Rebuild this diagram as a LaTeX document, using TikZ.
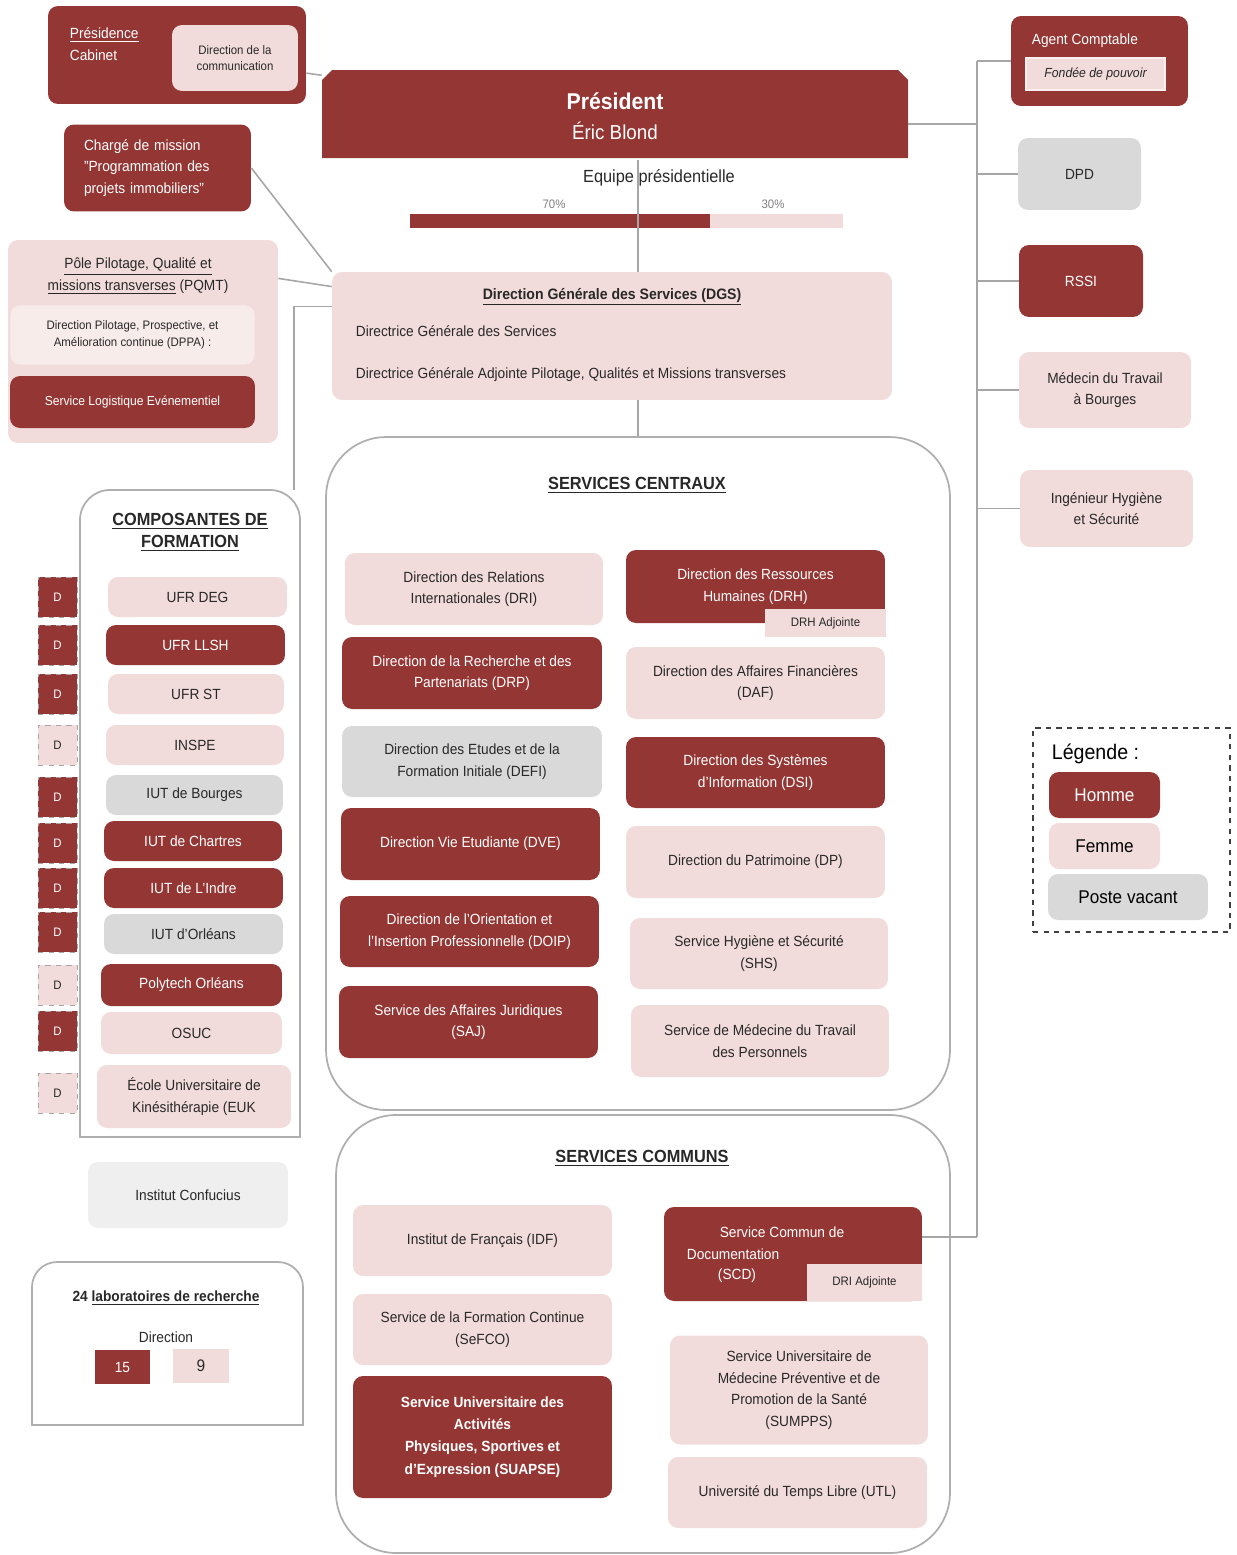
\documentclass[tikz,border=0pt]{standalone}
\usepackage{fontspec}
\setmainfont[FakeStretch=0.93]{Liberation Sans}
\definecolor{homme}{RGB}{148,54,52}
\definecolor{femme}{RGB}{242,220,219}
\definecolor{vacant}{RGB}{217,217,217}
\definecolor{confu}{RGB}{239,239,239}
\definecolor{dppa}{RGB}{248,236,235}
\definecolor{trait}{RGB}{166,166,166}
\definecolor{cadre}{RGB}{175,175,175}
\definecolor{texte}{RGB}{40,40,40}
\begin{document}
\begin{tikzpicture}[x=0.02cm, y=-0.02cm,
    every node/.style={font=\fontsize{8.4}{12.3}\selectfont, text=texte, inner sep=2pt},
    taille/.style 2 args={minimum width=#1cm, minimum height=#2cm},
    boite/.style={rounded corners=0.2cm, align=center},
    hom/.style={boite, fill=homme, text=white},
    fem/.style={boite, fill=femme},
    vac/.style={boite, fill=vacant},
    petit/.style={font=\fontsize{7}{9.5}\selectfont},
    titre/.style={font=\bfseries\fontsize{10}{12.5}\selectfont, align=center},
    dbox/.style={draw=trait, dashed, taille={0.78}{0.8}, petit},
    lien/.style={draw=trait, line width=0.9pt},
    cadre/.style={draw=cadre, line width=1pt}]
      \useasboundingbox (0,0) rectangle (1237,1555);

      \node[hom, taille={5.16}{1.96}] (pres) at (177,55) {};
      \node[fem, taille={2.52}{1.32}, petit] (comm) at (235,58) {Direction de la\\communication};
      \node[anchor=west, text=white, align=left] (cab) at (66,44) {\underline{Présidence}\\Cabinet};

      \node[hom, taille={3.74}{1.74}, text width=2.94cm, align=left] (charge) at (157.5,168) {Chargé de mission\\"Programmation des\\projets immobiliers"};

      \node[fem, taille={5.4}{4.06}] (pole) at (143,341.5) {};
      \node[align=center] (poleT) at (138,276) {\underline{Pôle Pilotage, Qualité et}\\\underline{missions transverses} (PQMT)};
      \node[boite, fill=dppa, draw=femme, taille={4.9}{1.2}, petit] (dppaB) at (132.5,335) {Direction Pilotage, Prospective, et\\Amélioration continue (DPPA) :};
      \node[hom, taille={4.9}{1.04}, font=\fontsize{7.4}{9}\selectfont] (sle) at (132.5,402) {Service Logistique Evénementiel};

      \fill[homme] (322,158) -- (322,80) -- (332,70) -- (898,70) -- (908,80) -- (908,158) -- cycle;
      \node[taille={11.72}{1.76}, text=white, align=center] (presid) at (615,116) {{\bfseries\fontsize{13}{16}\selectfont Président}\\[5pt]{\fontsize{11.5}{16}\selectfont Éric Blond}};

      \node[font=\fontsize{10}{12}\selectfont] (equipe) at (659,178) {Equipe présidentielle};
      \node[petit, text=gray] (p70) at (554,204) {70\%};
      \node[petit, text=gray] (p30) at (773,204) {30\%};
      \fill[homme] (410,214) rectangle (710,228);
      \fill[femme] (710,214) rectangle (843,228);

      \node[fem, taille={11.2}{2.56}] (dgs) at (612,336) {};
      \node[font=\bfseries\fontsize{8.6}{10}\selectfont] (dgsT) at (612,297) {\underline{Direction Générale des Services (DGS)}};
      \node[anchor=west] (dgs1) at (352,331) {Directrice Générale des Services};
      \node[anchor=west] (dgs2) at (352,375) {Directrice Générale Adjointe Pilotage, Qualités et Missions transverses};

      \node[cadre, rounded corners=1.2cm, taille={12.48}{13.46}] (centr) at (638,773.5) {};
      \node[titre] (centrT) at (637,485) {\underline{SERVICES CENTRAUX}};
      \node[fem, taille={5.16}{1.44}] (dri) at (474,589) {Direction des Relations\\Internationales (DRI)};
      \node[hom, taille={5.2}{1.44}] (drp) at (472,673) {Direction de la Recherche et des\\Partenariats (DRP)};
      \node[vac, taille={5.2}{1.42}] (defi) at (472,761.5) {Direction des Etudes et de la\\Formation Initiale (DEFI)};
      \node[hom, taille={5.18}{1.44}] (dve) at (470.5,844) {Direction Vie Etudiante (DVE)};
      \node[hom, taille={5.18}{1.42}] (doip) at (469.5,931.5) {Direction de l'Orientation et\\l'Insertion Professionnelle (DOIP)};
      \node[hom, taille={5.18}{1.44}] (saj) at (468.5,1022) {Service des Affaires Juridiques\\(SAJ)};
      \node[hom, taille={5.18}{1.46}] (drh) at (755.5,586.5) {Direction des Ressources\\Humaines (DRH)};
      \node[fem, sharp corners, taille={2.42}{0.56}, petit] (drhadj) at (825.5,623) {DRH Adjointe};
      \node[fem, taille={5.18}{1.44}] (daf) at (755.5,683) {Direction des Affaires Financières\\(DAF)};
      \node[hom, taille={5.18}{1.42}] (dsi) at (755.5,772.5) {Direction des Systèmes\\d'Information (DSI)};
      \node[fem, taille={5.18}{1.44}] (dp) at (755.5,862) {Direction du Patrimoine (DP)};
      \node[fem, taille={5.16}{1.42}] (shs) at (759,953.5) {Service Hygiène et Sécurité\\(SHS)};
      \node[fem, taille={5.16}{1.44}] (smtp) at (760,1041) {Service de Médecine du Travail\\des Personnels};

      \node[cadre, rounded corners=1.2cm, taille={12.28}{8.76}] (communs) at (643,1334) {};
      \node[titre] (communsT) at (642,1158) {\underline{SERVICES COMMUNS}};
      \node[fem, taille={5.18}{1.42}] (idf) at (482.5,1240.5) {Institut de Français (IDF)};
      \node[fem, taille={5.18}{1.42}] (sefco) at (482.5,1329.5) {Service de la Formation Continue\\(SeFCO)};
      \node[hom, taille={5.18}{2.44}, font=\bfseries\fontsize{8.4}{12.6}\selectfont] (suapse) at (482.5,1437) {Service Universitaire des\\Activités\\Physiques, Sportives et\\d'Expression (SUAPSE)};
      \node[hom, taille={5.16}{1.88}] (scd) at (793,1254) {};
      \node[fem, sharp corners, taille={2.3}{0.74}, petit] (scdadj) at (864.5,1282.5) {DRI Adjointe};
      \node[text=white] (scd1) at (782,1232) {Service Commun de};
      \node[text=white, anchor=west] (scd2) at (683,1254) {Documentation};
      \node[text=white] (scd3) at (737,1276) {(SCD)};
      \node[fem, taille={5.16}{2.18}] (sumpps) at (799,1390) {Service Universitaire de\\Médecine Préventive et de\\Promotion de la Santé\\(SUMPPS)};
      \node[fem, taille={5.18}{1.42}] (utl) at (797.5,1492.5) {Université du Temps Libre (UTL)};

      \node[hom, taille={3.54}{1.8}] (agent) at (1099.5,61) {};
      \node[anchor=west, text=white] (agentT) at (1028,41) {Agent Comptable};
      \node[fem, sharp corners, draw=white!55!femme, line width=1.5pt, taille={2.78}{0.64}, font=\itshape\fontsize{7.5}{9}\selectfont] (fondee) at (1095.5,74) {Fondée de pouvoir};
      \node[vac, taille={2.46}{1.44}] (dpd) at (1079.5,174) {DPD};
      \node[hom, taille={2.48}{1.44}] (rssi) at (1081,281) {RSSI};
      \node[fem, taille={3.44}{1.52}] (medecin) at (1105,390) {Médecin du Travail\\à Bourges};
      \node[fem, taille={3.46}{1.54}] (ingenieur) at (1106.5,508.5) {Ingénieur Hygiène\\et Sécurité};

      \node[draw=black!75, dashed, line width=0.8pt, taille={3.94}{4.08}] (legende) at (1131.5,830) {};
      \node[anchor=west, font=\fontsize{12}{14}\selectfont, text=black] (legT) at (1048,754) {Légende :};
      \node[hom, taille={2.22}{0.92}, font=\fontsize{10.5}{12}\selectfont] (lh) at (1104.5,795) {Homme};
      \node[fem, taille={2.22}{0.92}, font=\fontsize{10.5}{12}\selectfont, text=black] (lf) at (1104.5,846) {Femme};
      \node[vac, taille={3.2}{0.92}, font=\fontsize{10.5}{12}\selectfont, text=black] (lv) at (1128,897) {Poste vacant};

      \draw[cadre] (80,1137) -- (80,520) arc[start angle=180, end angle=90, radius=0.6cm] -- (270,490) arc[start angle=90, end angle=0, radius=0.6cm] -- (300,1137) -- cycle;
      \node[titre] (compT) at (190,532) {\underline{COMPOSANTES DE}\\\underline{FORMATION}};
      \node[fem, taille={3.58}{0.8}] (ufrdeg) at (197.5,597) {UFR DEG};
      \node[hom, taille={3.58}{0.8}] (ufrllsh) at (195.5,645) {UFR LLSH};
      \node[fem, taille={3.52}{0.8}] (ufrst) at (196,694) {UFR ST};
      \node[fem, taille={3.56}{0.8}] (inspe) at (195,745) {INSPE};
      \node[vac, taille={3.54}{0.8}] (iutb) at (194.5,795) {IUT de Bourges};
      \node[hom, taille={3.56}{0.8}] (iutc) at (193,841) {IUT de Chartres};
      \node[hom, taille={3.58}{0.8}] (iuti) at (193.5,888) {IUT de L'Indre};
      \node[vac, taille={3.58}{0.8}] (iuto) at (193.5,934) {IUT d'Orléans};
      \node[hom, taille={3.62}{0.84}] (polytech) at (191.5,985) {Polytech Orléans};
      \node[fem, taille={3.62}{0.84}] (osuc) at (191.5,1033) {OSUC};
      \node[fem, taille={3.88}{1.26}] (euk) at (194,1096.5) {École Universitaire de\\Kinésithérapie (EUK};
      \node[dbox, fill=homme, text=white] (d1) at (57.5,597) {D};
      \node[dbox, fill=homme, text=white] (d2) at (57.5,645) {D};
      \node[dbox, fill=homme, text=white] (d3) at (57.5,694) {D};
      \node[dbox, fill=femme] (d4) at (57.5,745) {D};
      \node[dbox, fill=homme, text=white] (d5) at (57.5,797) {D};
      \node[dbox, fill=homme, text=white] (d6) at (57.5,843) {D};
      \node[dbox, fill=homme, text=white] (d7) at (57.5,888) {D};
      \node[dbox, fill=homme, text=white] (d8) at (57.5,932) {D};
      \node[dbox, fill=femme] (d9) at (57.5,985) {D};
      \node[dbox, fill=homme, text=white] (d10) at (57.5,1031) {D};
      \node[dbox, fill=femme] (d11) at (57.5,1093) {D};

      \node[boite, fill=confu, taille={4.0}{1.32}] (confucius) at (188,1195) {Institut Confucius};

      \draw[cadre] (32,1425) -- (32,1287) arc[start angle=180, end angle=90, radius=0.5cm] -- (278,1262) arc[start angle=90, end angle=0, radius=0.5cm] -- (303,1425) -- cycle;
      \node[font=\bfseries\fontsize{8.4}{10}\selectfont] (laboT) at (166,1298) {24 \underline{laboratoires de recherche}};
      \node (laboD) at (166,1337) {Direction};
      \node[fill=homme, text=white, taille={1.1}{0.68}] (labo15) at (122.5,1367) {15};
      \node[fill=femme, taille={1.12}{0.68}, font=\fontsize{9.5}{11}\selectfont] (labo9) at (201,1366) {9};

      \coordinate (compN) at (294,490);
      \coordinate (busH) at (977,61);
      \coordinate (busP) at (977,124);
      \coordinate (busB) at (977,1237);
      \draw[lien] (pres) -- (presid);
      \draw[lien] (charge.east) -- (dgs.north west);
      \draw[lien] (pole.25) -- (dgs.170);
      \draw[lien] (dgs.174) -| (compN);
      \draw[lien] (presid.south -| centr.north) -- (dgs.north -| centr.north);
      \draw[lien] (dgs.south -| centr.north) -- (centr.north);
      \draw[lien] (busH) -- (busB);
      \draw[lien] (presid.east |- busP) -- (busP);
      \draw[lien] (agent.west) -- (agent.west -| busH);
      \draw[lien] (dpd.west) -- (dpd.west -| busH);
      \draw[lien] (rssi.west) -- (rssi.west -| busH);
      \draw[lien] (medecin.west) -- (medecin.west -| busH);
      \draw[lien] (ingenieur.west) -- (ingenieur.west -| busH);
      \draw[lien] (busB) -- (busB -| scd.east);
    \end{tikzpicture}
\end{document}
